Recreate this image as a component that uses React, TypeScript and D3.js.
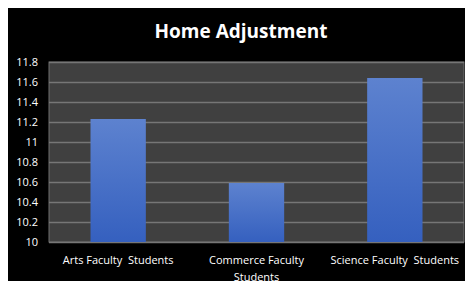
import * as d3 from "d3";
import { useEffect, useRef } from "react";

const categories = ["Arts Faculty  Students", "Commerce Faculty Students", "Science Faculty  Students"];
const categoryLines = [["Arts Faculty  Students"], ["Commerce Faculty", "Students"], ["Science Faculty  Students"]];
const values = [11.23, 10.59, 11.64];
const yTicks = [10, 10.2, 10.4, 10.6, 10.8, 11, 11.2, 11.4, 11.6, 11.8];

const W = 473;
const H = 289;

export default function App() {
	const svgRef = useRef<SVGSVGElement>(null);

	useEffect(() => {
		const svg = d3.select(svgRef.current);
		if (!svg.node()) return;
		svg.selectAll("*").remove();

		const plot = { left: 49, right: 464, top: 62, bottom: 242 };

		const x = d3
			.scaleBand()
			.domain(categories)
			.range([plot.left, plot.right])
			.paddingInner(0.6)
			.paddingOuter(0.3);
		const y = d3.scaleLinear().domain([10, 11.8]).range([plot.bottom, plot.top]);

		// page background + chart frame
		svg.append("rect").attr("width", W).attr("height", H).attr("fill", "#ffffff");
		svg
			.append("rect")
			.attr("x", 6)
			.attr("y", 6)
			.attr("width", W - 6)
			.attr("height", 279)
			.attr("fill", "#000000");

		const defs = svg.append("defs");
		const grad = defs
			.append("linearGradient")
			.attr("id", "barGrad")
			.attr("x1", 0)
			.attr("y1", 0)
			.attr("x2", 0)
			.attr("y2", 1);
		grad.append("stop").attr("offset", "0%").attr("stop-color", "#5d82cf");
		grad.append("stop").attr("offset", "100%").attr("stop-color", "#3560bf");

		// plot area
		svg
			.append("rect")
			.attr("x", plot.left)
			.attr("y", plot.top)
			.attr("width", plot.right - plot.left)
			.attr("height", plot.bottom - plot.top)
			.attr("fill", "#404040")
			.attr("stroke", "#6e6e6e")
			.attr("stroke-width", 1);

		// gridlines
		svg
			.append("g")
			.selectAll("line")
			.data(yTicks)
			.join("line")
			.attr("x1", plot.left)
			.attr("x2", plot.right)
			.attr("y1", (d) => Math.round(y(d)) + 0.5)
			.attr("y2", (d) => Math.round(y(d)) + 0.5)
			.attr("stroke", "#767676")
			.attr("stroke-width", 1.3);

		// bars
		svg
			.append("g")
			.selectAll("rect")
			.data(values)
			.join("rect")
			.attr("x", (_, i) => x(categories[i]) ?? 0)
			.attr("y", (d) => y(d))
			.attr("width", x.bandwidth())
			.attr("height", (d) => y(10) - y(d))
			.attr("fill", "url(#barGrad)");

		// y tick labels
		svg
			.append("g")
			.selectAll("text")
			.data(yTicks)
			.join("text")
			.attr("x", 38)
			.attr("y", (d) => y(d) + 4)
			.attr("text-anchor", "end")
			.attr("fill", "#ffffff")
			.style("font-family", "'Open Sans', sans-serif")
			.style("font-size", "11px")
			.text((d) => d3.format("")(d));

		// category labels
		const cat = svg
			.append("g")
			.selectAll("text")
			.data(categoryLines)
			.join("text")
			.attr("x", (_, i) => (x(categories[i]) ?? 0) + x.bandwidth() / 2)
			.attr("y", 264)
			.attr("text-anchor", "middle")
			.attr("fill", "#ffffff")
			.style("font-family", "'Open Sans', sans-serif")
			.style("font-size", "11px");
		cat
			.selectAll("tspan")
			.data((d) => d)
			.join("tspan")
			.attr("x", function () {
				return (this.parentNode as SVGTextElement).getAttribute("x");
			})
			.attr("dy", (_, i) => (i === 0 ? 0 : 17))
			.style("white-space", "pre")
			.text((d) => d);

		// title
		svg
			.append("text")
			.attr("x", 241)
			.attr("y", 38)
			.attr("text-anchor", "middle")
			.attr("fill", "#ffffff")
			.style("font-family", "'Open Sans', sans-serif")
			.style("font-weight", "700")
			.style("font-size", "19px")
			.text("Home Adjustment");
	}, []);

	return (
		<div style={{ margin: -8 }}>
			<svg ref={svgRef} width={W} height={H} style={{ display: "block" }} />
		</div>
	);
}
